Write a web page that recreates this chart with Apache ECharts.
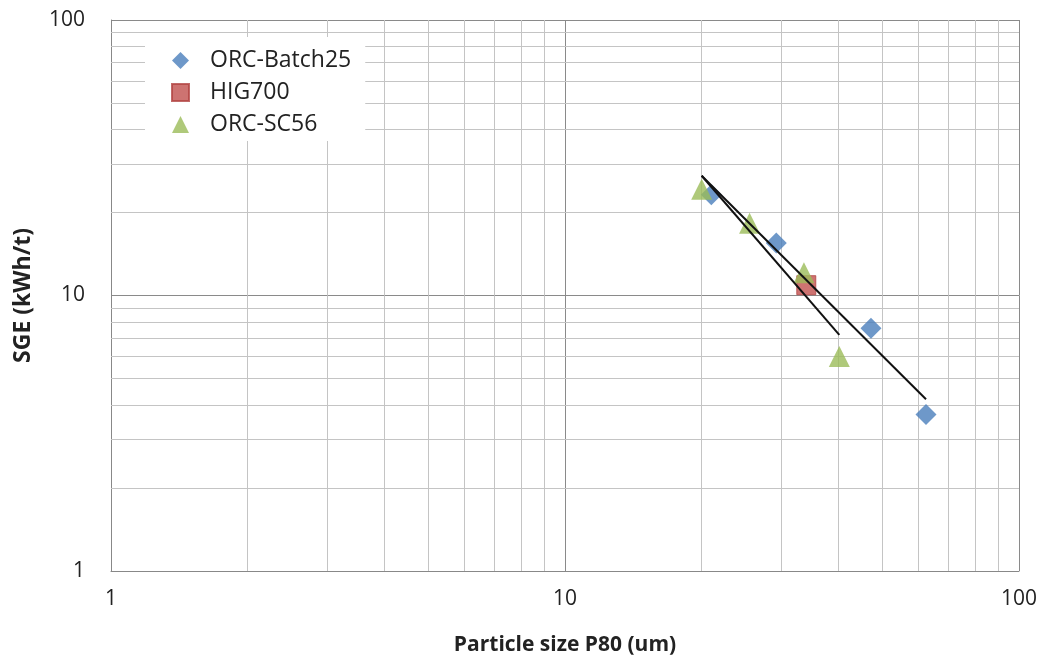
<!DOCTYPE html>
<html><head><meta charset="utf-8">
<script src="https://cdn.jsdelivr.net/npm/echarts@6/dist/echarts.min.js"></script>
<style>html,body{margin:0;padding:0;background:#fff}#c{width:1050px;height:666px}</style>
</head><body><div id="c"></div>
<script>
const xTicks = [1, 10, 100];
const yTicks = [1, 10, 100];
const minorX = [2,3,4,5,6,7,8,9,20,30,40,50,60,70,80,90];
const minorY = [2,3,4,5,6,7,8,9,20,30,40,50,60,70,80,90];
const batch25 = [[21.0, 23.2], [29.2, 15.5], [47.2, 7.6], [62.4, 3.7]];
const hig700 = [[34.0, 10.9]];
const sc56 = [[20.0, 24.3], [25.5, 18.3], [33.6, 12.1], [40.2, 6.0]];
const trendBatch = [[20.0, 27.2], [62.4, 4.2]];
const trendSC = [[20.0, 27.2], [40.2, 7.2]];

const font = 'Open Sans';
const chart = echarts.init(document.getElementById('c'));
const minorLines = {
  type: 'line', data: [], silent: true, z: 1,
  markLine: {
    silent: true, symbol: 'none', label: {show: false},
    lineStyle: {color: '#c4c4c4', width: 1, type: 'solid'},
    animation: false, z: 1,
    data: minorX.map(v => ({xAxis: v})).concat(minorY.map(v => ({yAxis: v})))
  }
};
chart.setOption({
  animation: false,
  grid: {left: 111, right: 31, top: 20, bottom: 95},
  legend: {
    data: ['ORC-Batch25', 'HIG700', 'ORC-SC56'],
    orient: 'vertical', left: 145, top: 37, z: 20,
    itemWidth: 17, itemHeight: 17, itemGap: 9,
    backgroundColor: '#fff', padding: [12, 14, 5, 26],
    textStyle: {fontFamily: font, fontSize: 23, lineHeight: 22, color: '#222', padding: [0, 0, 0, 16]}
  },
  xAxis: {
    type: 'log', logBase: 10, min: 1, max: 100,
    name: 'Particle size P80 (um)', nameLocation: 'middle', nameGap: 64,
    nameTextStyle: {fontFamily: font, fontSize: 21, fontWeight: 'bold', color: '#222'},
    axisLine: {show: true, lineStyle: {color: '#888'}},
    axisTick: {show: false},
    axisLabel: {fontFamily: font, fontSize: 21, color: '#222', margin: 18},
    splitLine: {show: true, lineStyle: {color: '#8a8a8a', width: 1}}
  },
  yAxis: {
    type: 'log', logBase: 10, min: 1, max: 100,
    name: 'SGE (kWh/t)', nameLocation: 'middle', nameGap: 76, nameRotate: 90,
    nameTextStyle: {fontFamily: font, fontSize: 23, fontWeight: 'bold', color: '#222'},
    axisLine: {show: true, lineStyle: {color: '#888'}},
    axisTick: {show: false},
    axisLabel: {fontFamily: font, fontSize: 21, color: '#222', margin: 26},
    splitLine: {show: true, lineStyle: {color: '#8a8a8a', width: 1}}
  },
  series: [
    minorLines,
    {name: 'trend1', type: 'line', data: trendBatch, symbol: 'none', silent: true,
     lineStyle: {color: '#111', width: 2}, z: 5},
    {name: 'trend2', type: 'line', data: trendSC, symbol: 'none', silent: true,
     lineStyle: {color: '#111', width: 2}, z: 5},
    {name: 'ORC-Batch25', type: 'scatter', data: batch25, symbol: 'diamond', symbolSize: 21,
     itemStyle: {color: '#4A7EBB'}, z: 3},
    {name: 'HIG700', type: 'scatter', data: hig700, symbol: 'rect', symbolSize: 19,
     itemStyle: {color: '#C0504D', borderColor: '#B24442', borderWidth: 1}, z: 3},
    {name: 'ORC-SC56', type: 'scatter', data: sc56, symbol: 'triangle', symbolSize: 21,
     itemStyle: {color: '#9BBB59'}, z: 4}
  ]
});
</script></body></html>
